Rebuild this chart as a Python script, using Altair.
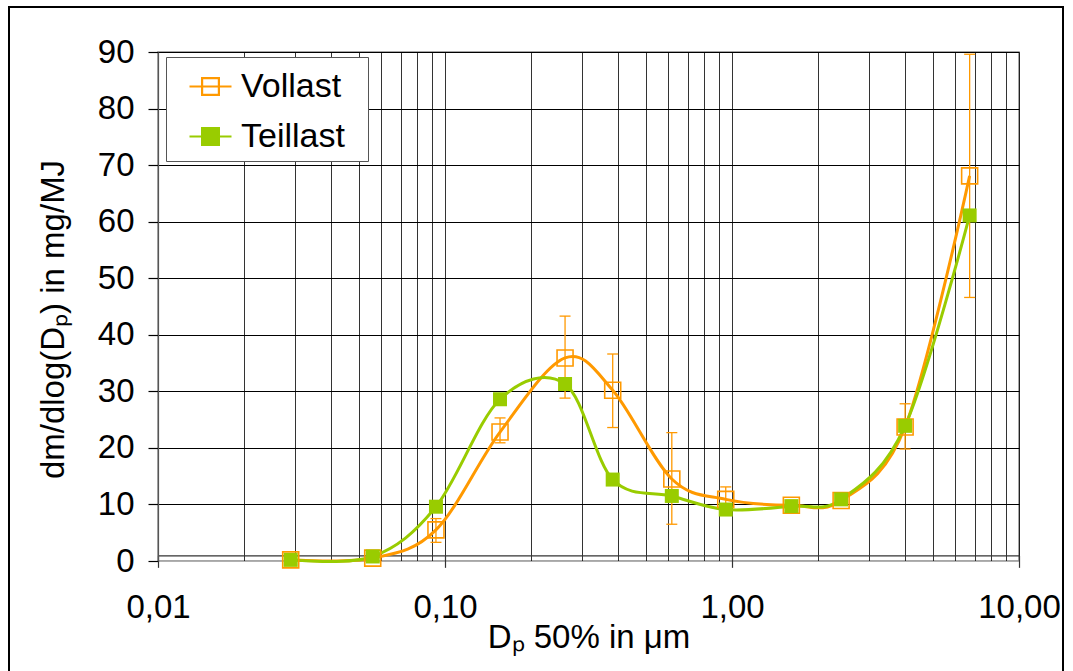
import altair as alt
import pandas as pd

# Particle size distribution, Vollast vs. Teillast
d_p = [0.0290, 0.0560, 0.0930, 0.1555, 0.262, 0.384, 0.617, 0.951, 1.61, 2.40, 4.01, 6.73]
vollast = [0.2, 0.5, 5.5, 22.8, 35.9, 30.2, 14.5, 10.9, 9.85, 10.7, 23.7, 68.1]
vollast_lo = [0.0, 0.3, 3.3, 20.9, 28.8, 23.6, 6.5, 8.7, 9.0, 10.0, 19.8, 46.6]
vollast_hi = [0.4, 0.7, 7.5, 25.3, 43.3, 36.6, 22.7, 13.1, 10.7, 11.4, 27.8, 89.6]
teillast = [0.2, 0.8, 9.6, 28.6, 31.3, 14.4, 11.5, 9.1, 9.7, 10.9, 23.9, 61.1]

series_names = ["Vollast", "Teillast"]
series_colors = ["#FF9900", "#99CC00"]
ORANGE, GREEN = series_colors

x_major = [0.01, 0.1, 1, 10]
x_grid = [0.01, 0.02, 0.03, 0.04, 0.05, 0.06, 0.07, 0.08, 0.09,
          0.1, 0.2, 0.3, 0.4, 0.5, 0.6, 0.7, 0.8, 0.9,
          1, 2, 3, 4, 5, 6, 7, 8, 9, 10]
y_ticks = [0, 10, 20, 30, 40, 50, 60, 70, 80, 90]
x_axis_cross = 1.0  # value where the x axis line crosses the y axis

W, H = 861, 509
FONT = "Liberation Sans"
FS = 33

df = pd.DataFrame({
    "d_p": d_p + d_p,
    "series": ["Vollast"] * len(d_p) + ["Teillast"] * len(d_p),
    "value": vollast + teillast,
})
voll_df = pd.DataFrame({"d_p": d_p, "value": vollast, "lo": vollast_lo, "hi": vollast_hi})
teil_df = pd.DataFrame({"d_p": d_p, "value": teillast})

x_scale = alt.Scale(type="log", domain=[0.01, 10], nice=False)
y_scale = alt.Scale(domain=[0, 90], nice=False, zero=False)
color_scale = alt.Scale(domain=series_names, range=series_colors)

legend_symbol = "M-1,0H1M-0.4,-0.4H0.4V0.4H-0.4Z"

grid_x_axis = alt.Axis(values=x_grid, grid=True, gridColor="black", gridOpacity=0.8,
                       gridWidth=1, domain=False, ticks=False, labels=False, title=None,
                       orient="bottom")

label_x_axis = alt.Axis(
    orient="bottom",
    values=x_major,
    labelExpr="replace(format(datum.value, '.2f'), '.', ',')",
    grid=False, domain=True, domainColor="#333333", domainWidth=1.2,
    ticks=True, tickSize=12, tickColor="#333333", tickWidth=1.2,
    offset=-H / 90 * x_axis_cross,
    labelFont=FONT, labelFontSize=FS, labelColor="black", labelPadding=24,
    labelFlush=False, labelOverlap=False,
    title="Dₚ 50% in μm", titleFont=FONT, titleFontSize=FS,
    titleFontWeight="normal", titleColor="black", titlePadding=-3,
)

y_axis = alt.Axis(
    values=y_ticks, grid=True,
    gridColor={"condition": {"test": "datum.value === 0", "value": "#b0b0b0"}, "value": "black"},
    gridWidth=1, domain=True, domainColor="#555555", domainWidth=1.2,
    ticks=True, tickSize=10, tickColor="black", tickWidth=1.2,
    labelFont=FONT, labelFontSize=FS, labelColor="black", labelPadding=14,
    title="dm/dlog(Dₚ) in mg/MJ", titleFont=FONT, titleFontSize=FS,
    titleFontWeight="normal", titleColor="black", titlePadding=27, titleY=267,
)

# The blank right-hand title only widens the legend frame on its right side.
legend = alt.Legend(
    orient="none", legendX=8, legendY=5,
    title="\u00a0", titleOrient="right", titlePadding=16, titleFontSize=20,
    padding=7, symbolOffset=15, rowPadding=10, labelOffset=8,
    symbolType=legend_symbol, symbolSize=1764, symbolStrokeWidth=2.2,
    symbolFillColor=alt.ExprRef(expr="datum.value === 'Teillast' ? '" + GREEN + "' : 'transparent'"),
    labelFont=FONT, labelFontSize=34, labelColor="black",
    strokeColor="#555555", fillColor="white",
)

frame = alt.Chart(pd.DataFrame({"k": [0]})).mark_rect(
    fillOpacity=0, stroke="black", strokeWidth=2
).encode(x=alt.value(-149), x2=alt.value(905), y=alt.value(-45), y2=alt.value(640))

voll_base = alt.Chart(voll_df).encode(x=alt.X("d_p:Q", scale=x_scale, axis=None))
err_rules = voll_base.mark_rule(color=ORANGE, strokeWidth=1.3).encode(
    y=alt.Y("lo:Q", scale=y_scale), y2="hi:Q")
err_lo = voll_base.mark_point(shape="M-1,0H1", filled=False, size=121, strokeWidth=1.3,
                              color=ORANGE, opacity=1).encode(
    y=alt.Y("lo:Q", scale=y_scale))
err_hi = voll_base.mark_point(shape="M-1,0H1", filled=False, size=121, strokeWidth=1.3,
                              color=ORANGE, opacity=1).encode(
    y=alt.Y("hi:Q", scale=y_scale))

lines = alt.Chart(df).mark_line(interpolate="cardinal", strokeWidth=3).encode(
    x=alt.X("d_p:Q", scale=x_scale, axis=grid_x_axis),
    y=alt.Y("value:Q", scale=y_scale, axis=y_axis),
    color=alt.Color("series:N", scale=color_scale, legend=legend),
    detail="series:N",
)

pts_voll = voll_base.mark_point(
    shape="square", filled=False, size=256, strokeWidth=1.6, opacity=1, color=ORANGE
).encode(y=alt.Y("value:Q", scale=y_scale))

pts_teil = alt.Chart(teil_df).mark_point(
    shape="square", filled=True, size=196, opacity=1, color=GREEN
).encode(
    x=alt.X("d_p:Q", scale=x_scale, axis=label_x_axis),
    y=alt.Y("value:Q", scale=y_scale),
)

chart = alt.layer(
    frame, err_rules, err_lo, err_hi, lines, pts_voll, pts_teil
).resolve_axis(x="independent").properties(
    width=W, height=H,
    autosize=alt.AutoSizeParams(type="none"),
    padding={"left": 158, "top": 52, "right": 54, "bottom": 110},
    background="white",
).configure_view(stroke="#8a8a8a", strokeWidth=1.5)

chart.save("out.html", embed_options={"renderer": "svg", "actions": False})
